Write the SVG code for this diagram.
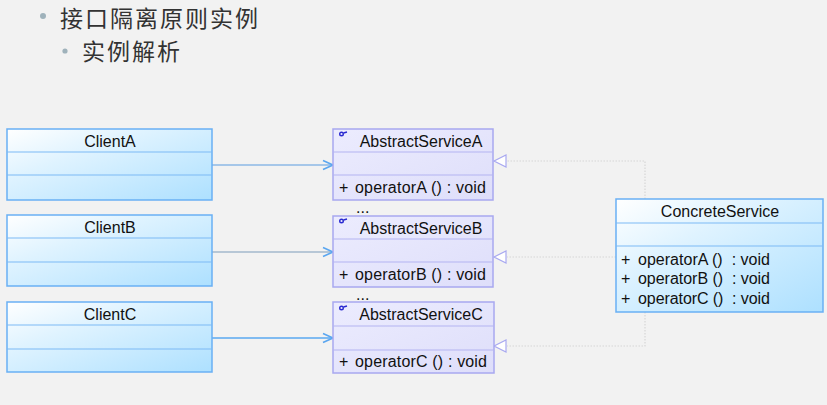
<svg xmlns="http://www.w3.org/2000/svg" width="827" height="405" viewBox="0 0 827 405">
<defs>
<linearGradient id="gBlue" x1="0" y1="0" x2="1" y2="1">
<stop offset="0" stop-color="#ffffff"/>
<stop offset="0.35" stop-color="#dff3ff"/>
<stop offset="1" stop-color="#ade0ff"/>
</linearGradient>
<linearGradient id="gLav" x1="0" y1="0" x2="1" y2="1">
<stop offset="0" stop-color="#ececfe"/>
<stop offset="1" stop-color="#dedefa"/>
</linearGradient>
<marker id="open" markerWidth="14" markerHeight="12" refX="12" refY="6" orient="auto" markerUnits="userSpaceOnUse">
<path d="M2,1.5 L12,6 L2,10.5" fill="none" stroke="#5aa6f0" stroke-width="1.6"/>
</marker>
</defs>
<style>
.bg{fill:#f2f2f2}
.title{font-family:"Noto Sans CJK SC","Noto Sans",sans-serif;fill:#333333;font-size:23px;letter-spacing:2px}
.bullet{fill:#9fb2bb}
.cls{fill:url(#gBlue);stroke:#69b0f5;stroke-width:1.5}
.div{stroke:#7dbaf5;stroke-width:1.2}
.abs{fill:url(#gLav);stroke:#a8a8f0;stroke-width:1.5}
.adiv{stroke:#b4b4f2;stroke-width:1.2}
.t{font-family:"Liberation Sans",Arial,sans-serif;font-size:16px;fill:#111111;white-space:pre}
.assoc{fill:none;stroke-width:1.3;marker-end:url(#open)}
.real{fill:none;stroke:#d6d6d6;stroke-width:1.2;stroke-dasharray:1.5,1.5}
.tri{fill:#ffffff;stroke:#a8a8f0;stroke-width:1.2}
.icon{fill:none;stroke:#2a2ad0;stroke-width:1.4}
</style>
<rect class="bg" x="0" y="0" width="827" height="405"/>
<g id="heading">
<circle class="bullet" cx="43" cy="16" r="3"/>
<text class="title" x="60" y="27">接口隔离原则实例</text>
<circle class="bullet" cx="65" cy="51" r="2.6"/>
<text class="title" x="82" y="60">实例解析</text>
</g>
<g id="connectors">
<line class="assoc" x1="212" y1="165" x2="333" y2="165" stroke="#8db8e6"/>
<line class="assoc" x1="212" y1="252" x2="333" y2="252" stroke="#a3b8cc"/>
<line class="assoc" x1="212" y1="338" x2="333" y2="338" stroke="#5aa8f0"/>
<path class="real" d="M645,199 L645,161 L507,161"/>
<path class="real" d="M616,257 L507,257"/>
<path class="real" d="M645,312 L645,346 L507,346"/>
<path class="tri" d="M494,161 L506,155 L506,167 Z"/>
<path class="tri" d="M494,257 L506,251 L506,263 Z"/>
<path class="tri" d="M494,346 L506,340 L506,352 Z"/>
</g>
<g id="ClientA">
<rect class="cls" x="7" y="129" width="205" height="71"/>
<line class="div" x1="7" y1="152" x2="212" y2="152"/>
<line class="div" x1="7" y1="175" x2="212" y2="175"/>
<text class="t" x="110" y="146.5" text-anchor="middle">ClientA</text>
</g>
<g id="ClientB">
<rect class="cls" x="7" y="215" width="205" height="71"/>
<line class="div" x1="7" y1="238" x2="212" y2="238"/>
<line class="div" x1="7" y1="262" x2="212" y2="262"/>
<text class="t" x="110" y="233" text-anchor="middle">ClientB</text>
</g>
<g id="ClientC">
<rect class="cls" x="7" y="302" width="205" height="70"/>
<line class="div" x1="7" y1="325" x2="212" y2="325"/>
<line class="div" x1="7" y1="349" x2="212" y2="349"/>
<text class="t" x="110" y="319.5" text-anchor="middle">ClientC</text>
</g>
<g id="AbstractServiceA">
<rect class="abs" x="333" y="129" width="160" height="71"/>
<line class="adiv" x1="333" y1="152" x2="493" y2="152"/>
<line class="adiv" x1="333" y1="175" x2="493" y2="175"/>
<circle class="icon" cx="341.5" cy="134" r="1.8"/>
<line class="icon" x1="343.5" y1="133" x2="347" y2="132"/>
<text class="t" x="421" y="146.5" text-anchor="middle">AbstractServiceA</text>
<text class="t" x="339" y="192.5">+</text>
<text class="t" x="355" y="192.5" textLength="131" lengthAdjust="spacing">operatorA () : void</text>
<text class="t" x="356" y="213">...</text>
</g>
<g id="AbstractServiceB">
<rect class="abs" x="333" y="216" width="160" height="71"/>
<line class="adiv" x1="333" y1="239" x2="493" y2="239"/>
<line class="adiv" x1="333" y1="262" x2="493" y2="262"/>
<circle class="icon" cx="341.5" cy="221" r="1.8"/>
<line class="icon" x1="343.5" y1="220" x2="347" y2="219"/>
<text class="t" x="421" y="233.5" text-anchor="middle">AbstractServiceB</text>
<text class="t" x="339" y="279.5">+</text>
<text class="t" x="355" y="279.5" textLength="131" lengthAdjust="spacing">operatorB () : void</text>
<text class="t" x="356" y="300">...</text>
</g>
<g id="AbstractServiceC">
<rect class="abs" x="333" y="302" width="161" height="71"/>
<line class="adiv" x1="333" y1="326" x2="494" y2="326"/>
<line class="adiv" x1="333" y1="350" x2="494" y2="350"/>
<circle class="icon" cx="341.5" cy="308" r="1.8"/>
<line class="icon" x1="343.5" y1="307" x2="347" y2="306"/>
<text class="t" x="421" y="320" text-anchor="middle">AbstractServiceC</text>
<text class="t" x="339" y="366.5">+</text>
<text class="t" x="355" y="366.5" textLength="132" lengthAdjust="spacing">operatorC () : void</text>
</g>
<g id="ConcreteService">
<rect class="cls" x="616" y="199" width="207" height="113"/>
<line class="div" x1="616" y1="223" x2="823" y2="223"/>
<line class="div" x1="616" y1="246" x2="823" y2="246"/>
<text class="t" x="720" y="217" text-anchor="middle">ConcreteService</text>
<text class="t" x="621" y="264.5">+</text>
<text class="t" x="638" y="264.5" textLength="132" lengthAdjust="spacing">operatorA ()  : void</text>
<text class="t" x="621" y="284">+</text>
<text class="t" x="638" y="284" textLength="132" lengthAdjust="spacing">operatorB ()  : void</text>
<text class="t" x="621" y="304">+</text>
<text class="t" x="638" y="304" textLength="132" lengthAdjust="spacing">operatorC ()  : void</text>
</g>
</svg>
